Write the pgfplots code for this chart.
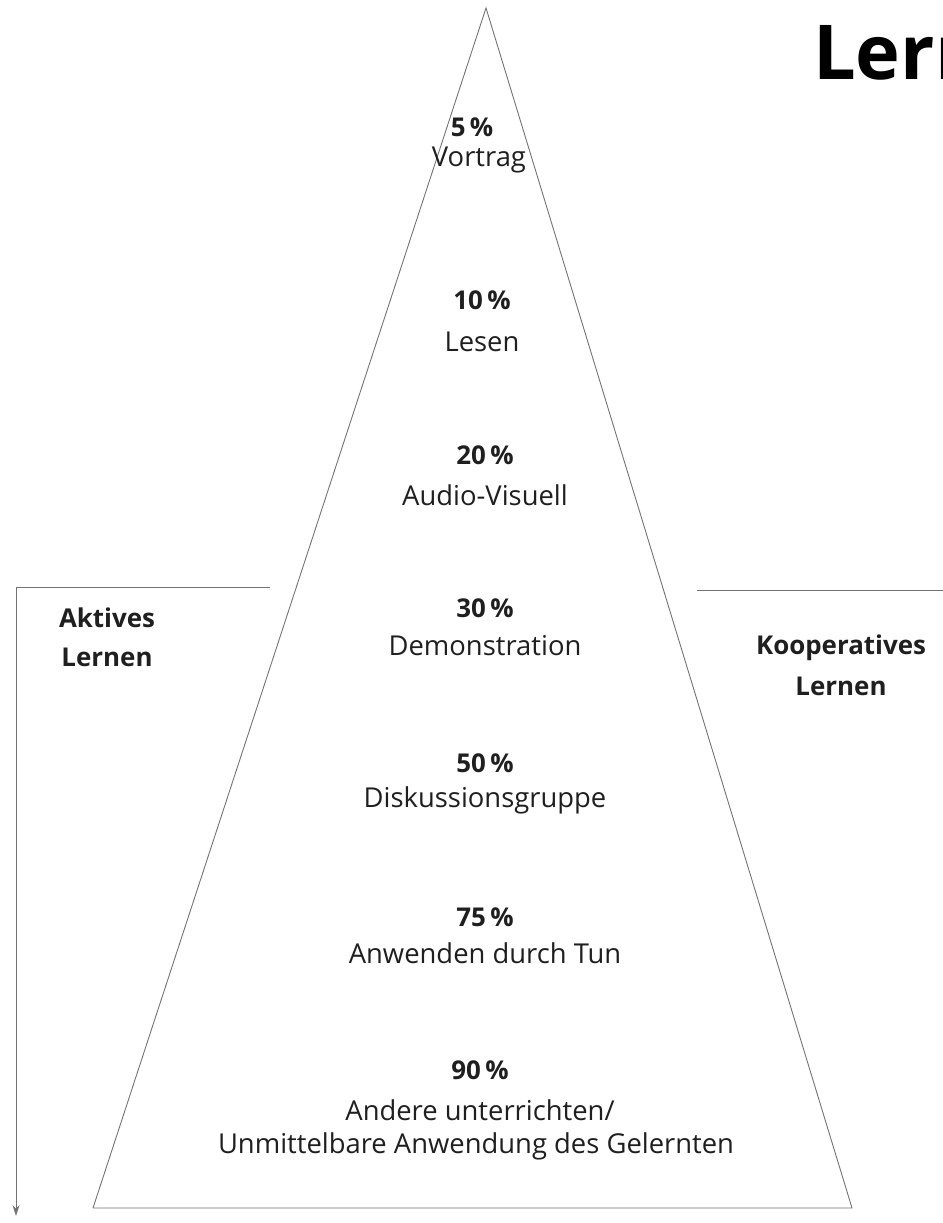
\documentclass[border=0pt]{standalone}
\usepackage{fontspec}
\setmainfont{Open Sans}
\usepackage{pgfplots}
\usetikzlibrary{arrows.meta}
\pgfplotsset{compat=1.18}
\definecolor{ink}{gray}{0.12}
\definecolor{linec}{gray}{0.45}
\begin{document}
\begin{tikzpicture}
\begin{axis}[
  width=943bp, height=1223bp, scale only axis,
  xmin=0, xmax=943, ymin=0, ymax=1223, y dir=reverse,
  hide axis, clip=false,
  /pgf/number format/assume math mode=true,
  every node near coord/.append style={anchor=center, font=\fontsize{27.5}{32}\selectfont, text=ink, inner sep=0pt},
]
% pyramid outline
\addplot[linec, line width=0.9pt, line join=miter] coordinates {(93,1208) (486,8) (852,1208) (93,1208)};
% left bracket with arrow
\addplot[linec, line width=0.9pt, -{Stealth[length=11pt,width=7pt]}] coordinates {(270,587) (16,587) (16,1216)};
% right line
\addplot[linec, line width=0.9pt] coordinates {(697,590) (943,590)};
% percentages
\addplot[draw=none, mark=none, point meta=explicit,
  nodes near coords={\textbf{\pgfmathprintnumber{\pgfplotspointmeta}\,\%}},
  every node near coord/.append style={font=\fontsize{26}{30}\selectfont}]
  coordinates {(472,127) [5] (482,300) [10] (485,455) [20] (485,608) [30] (485,763) [50] (485,917) [75] (480,1070) [90]};
% activity names
\addplot[draw=none, mark=none, point meta=explicit symbolic, nodes near coords]
  coordinates {
   (479,160) [Vortrag]
   (482,342) [Lesen]
   (485,495) [Audio-Visuell]
   (485,646) [Demonstration]
   (485,800) [Diskussionsgruppe]
   (485,953) [Anwenden durch Tun]
   (480,1110) [Andere unterrichten/]
   (476,1146) [Unmittelbare Anwendung des Gelernten]
  };
% side labels
\addplot[draw=none, mark=none, point meta=explicit symbolic,
  nodes near coords={\textbf{\pgfplotspointmeta}},
  every node near coord/.append style={font=\fontsize{26}{30}\selectfont}]
  coordinates {
   (107,618) [Aktives]
   (107,657) [Lernen]
   (841,648) [Kooperatives]
   (841,686) [Lernen]
  };
% title (cut off by page edge, as in the reference)
\addplot[draw=none, mark=none, point meta=explicit symbolic,
  nodes near coords={\textbf{\pgfplotspointmeta}},
  every node near coord/.append style={anchor=base west, font=\fontsize{76}{80}\selectfont, text=black}]
  coordinates {(813,80) [Lernpyramide]};
\end{axis}
\pgfresetboundingbox
\useasboundingbox (current axis.south west) rectangle (current axis.north east);
\end{tikzpicture}
\end{document}
